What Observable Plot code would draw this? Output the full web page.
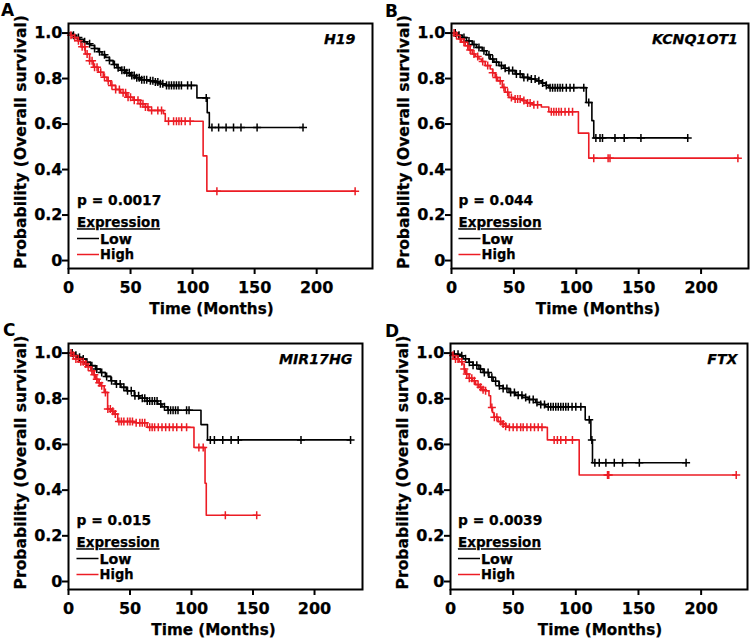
<!DOCTYPE html>
<html><head><meta charset="utf-8">
<script src="https://cdn.jsdelivr.net/npm/d3@7"></script>
<script src="https://cdn.jsdelivr.net/npm/@observablehq/plot@0.6"></script>
<style>
body{margin:0;background:#fff;}
#root{position:relative;width:750px;height:643px;overflow:hidden;background:#fff;font-family:"DejaVu Sans",sans-serif;font-weight:bold;}
.panel{position:absolute;}
.panel svg{max-width:none;}
.panel svg text{stroke:currentColor;stroke-width:0.25px;}
.letter{position:absolute;font-size:17px;font-weight:bold;line-height:1;}
</style></head><body><div id="root"></div>
<script>
// ---------- data ----------
const timeTicks = [0, 50, 100, 150, 200];
const probTicks = [0, 0.2, 0.4, 0.6, 0.8, 1.0];
const groups = ["Low", "High"];
const groupColors = ["#000000", "#ec1c24"];
const panelLetters = ["A", "B", "C", "D"];
const genes = ["H19", "KCNQ1OT1", "MIR17HG", "FTX"];
const pValues = ["0.0017", "0.044", "0.015", "0.0039"];

// Kaplan-Meier steps: [months, survival]
const aLow = [[0,1],[3,0.99],[6,0.98],[9,0.972],[12,0.962],[15,0.953],[18,0.945],[21,0.932],[24,0.918],[27,0.905],[30,0.893],[33,0.879],[36,0.862],[39,0.848],[42,0.836],[46,0.825],[50,0.813],[54,0.804],[58,0.795],[64,0.79],[70,0.785],[74,0.777],[78,0.77],[103.5,0.715],[111.8,0.65],[113.5,0.585],[189,0.585]];
const aHigh = [[0,1],[2,0.99],[4,0.98],[7,0.966],[10,0.94],[13.5,0.908],[17,0.878],[20,0.85],[24,0.828],[28,0.806],[31,0.79],[34,0.77],[38,0.752],[42,0.738],[47,0.718],[52,0.705],[58,0.689],[62,0.675],[64.5,0.66],[76.5,0.646],[78,0.612],[108.5,0.46],[111.5,0.305],[231,0.305]];
const aLowCens = [4,8,13,17,21,25,29,33,37,40,43,45,47,49,51,53,55,57,59,61,63,66,68,70,72,74,76,79,81,83,85,87,89,91,96,99,111,115.6,121,127,133,139,152,189];
const aHighCens = [2,5,8,11,13,15,17,19,21,23,26,29,32,35,38,41,44,46,48,50,53,56,58,60,62,64,67,72,75,80.6,84.7,87,89,91,94,98,119.6,231];

const bLow = [[0,1],[4,0.99],[8.6,0.98],[12,0.965],[16.6,0.95],[20,0.937],[24.6,0.922],[28,0.905],[31,0.886],[34,0.872],[38,0.857],[42,0.845],[46,0.835],[51,0.82],[56.8,0.805],[62,0.798],[67.5,0.79],[72,0.78],[75.5,0.77],[78,0.76],[108,0.695],[112.5,0.615],[114,0.539],[189.3,0.539]];
const bHigh = [[0,1],[3,0.99],[5.9,0.974],[8,0.96],[11,0.944],[14,0.925],[16.6,0.908],[19,0.897],[22,0.886],[24,0.875],[27,0.857],[31,0.842],[33,0.825],[35,0.805],[37,0.79],[40.7,0.761],[43,0.74],[46,0.717],[50,0.71],[56.8,0.703],[60,0.693],[65,0.685],[72,0.675],[78,0.654],[101.7,0.56],[110,0.45],[230,0.45]];
const bLowCens = [3,6,10,14,18,22,26,30,33,36,40,43,46,49,52,55,58,61,64,67,70,73,76,79,81,83,85,87,89,92,95,98,106,110,115.7,119,121,131,138.4,151.8,189.3];
const bHighCens = [2,4,7,10,13,15,18,21,25,29,33,36,39,42,45,48,51,53,55,58,61,63,66,69,80,82,84,86,88,91,94,97,114,125.5,127,229.5];

const cLow = [[0,1],[4,0.99],[7,0.982],[10,0.974],[14,0.96],[18,0.945],[22,0.93],[26,0.915],[30,0.898],[34.5,0.879],[38,0.865],[42.6,0.85],[47,0.835],[53.5,0.813],[58,0.802],[64,0.79],[72.5,0.777],[76,0.765],[80.6,0.75],[107.7,0.687],[113,0.62],[229.3,0.62]];
const cHigh = [[0,1],[3,0.99],[6,0.974],[9,0.962],[12.8,0.952],[15,0.94],[18,0.923],[20,0.905],[22,0.886],[24,0.87],[26,0.857],[29,0.828],[31.8,0.755],[35,0.745],[37,0.733],[40,0.70],[55,0.695],[64,0.675],[102,0.587],[111,0.43],[112,0.29],[153,0.29]];
const cLowCens = [3,6,9,12,15,19,23,27,31,35,39,42,45,48,51,54,57,60,62,64,66,68,70,72,75,78,81,83,85,87,89,96,98,115.3,118.6,125.4,132.2,138,189,229.3];
const cHighCens = [2,4,6,8,10,12,14,16,19,21,23,25,27,30,32,34,36,38,41,43,45,48,50,52,55,58,60,62,66,68,70,73,76,79,82,85,88,92,96,106,109.5,127.5,153];

const dLow = [[0,1],[3,0.995],[6.7,0.988],[10,0.975],[14.7,0.96],[18,0.947],[22.7,0.93],[26,0.915],[30.7,0.894],[34,0.877],[38.7,0.857],[42,0.845],[46.7,0.828],[52,0.815],[57.3,0.806],[62,0.797],[68,0.784],[72,0.775],[76,0.765],[107.5,0.708],[112,0.62],[113.3,0.52],[188,0.52]];
const dHigh = [[0,1],[2,0.99],[4,0.974],[7,0.962],[9.3,0.952],[11,0.93],[12,0.908],[15,0.89],[17.3,0.879],[20,0.862],[22.7,0.85],[25,0.84],[28,0.835],[30.7,0.813],[32,0.762],[33.5,0.74],[34.7,0.719],[38,0.70],[41.3,0.69],[44,0.68],[46.7,0.675],[77.3,0.62],[102.7,0.466],[228,0.466]];
const dLowCens = [3,6,9,12,15,18,21,24,27,30,33,36,39,42,45,48,51,54,57,60,63,66,69,72,75,78,80,82,84,86,88,90,92,94,97,100,104,110.7,112.8,115.2,118.7,124,130.7,137.3,150.7,188];
const dHighCens = [2,4,6,9,11,13,15,17,19,22,24,26,28,33,35,37,40,42,44,47,50,53,56,58,61,64,67,70,73,82.7,85.3,88,92,97.3,125.3,126.3,228];

// ---------- layout ----------
const panels = [
  {steps:[aLow,aHigh], cens:[aLowCens,aHighCens]},
  {steps:[bLow,bHigh], cens:[bLowCens,bHighCens]},
  {steps:[cLow,cHigh], cens:[cLowCens,cHighCens]},
  {steps:[dLow,dHigh], cens:[dLowCens,dHighCens]}
];
const layout = [
  {left:0,   top:0,   w:375, h:320, mL:68, mR:3,  mT:23, mB:52, xMax:245, geneDx:-17, xLabDx:-9, legDx:9,   lx:1,  ly:2},
  {left:375, top:0,   w:375, h:320, mL:76, mR:2,  mT:23, mB:52, xMax:238, geneDx:-10.5, xLabDx:-2, legDx:7.5, lx:10, ly:3},
  {left:0,   top:320, w:375, h:323, mL:68, mR:13, mT:23, mB:54, xMax:239, geneDx:-10, xLabDx:-2, legDx:8.5, lx:3,  ly:2},
  {left:375, top:320, w:375, h:323, mL:75, mR:3,  mT:23, mB:54, xMax:237, geneDx:-10, xLabDx:1,  legDx:8,   lx:10, ly:3}
];

function survAt(steps, t) {
  let s = steps[0][1];
  for (const [tt, ss] of steps) { if (tt <= t) s = ss; else break; }
  return s;
}

const root = document.getElementById("root");

panels.forEach((P, k) => {
  const L = layout[k];
  const rows = [], cens = [];
  groups.forEach((g, i) => {
    P.steps[i].forEach(([t, s]) => rows.push({t, s, g}));
    P.cens[i].forEach(t => cens.push({t, s: survAt(P.steps[i], t), g}));
  });

  const svgEl = Plot.plot({
    width: L.w, height: L.h,
    marginLeft: L.mL, marginRight: L.mR, marginTop: L.mT, marginBottom: L.mB,
    style: {fontFamily: "DejaVu Sans", fontSize: "16px", fontWeight: "bold", background: "transparent", color: "#000"},
    x: {domain: [0, L.xMax]},
    y: {domain: [-0.035, 1.042]},
    color: {domain: groups, range: groupColors},
    marks: [
      Plot.line(rows, {x: "t", y: "s", z: "g", stroke: "g", curve: "step-after", strokeWidth: 1.6}),
      Plot.dot(cens, {x: "t", y: "s", stroke: "g", symbol: "plus", r: 2.7, strokeWidth: 1.5}),
      Plot.frame({strokeWidth: 2}),
      Plot.axisX({ticks: timeTicks, tickSize: 6, tickPadding: 7, strokeWidth: 2, label: null, fontSize: 16}),
      Plot.axisY({ticks: probTicks, tickFormat: d => d === 0 ? "0" : d.toFixed(1), tickSize: 6, tickPadding: 0, strokeWidth: 2, label: null, fontSize: 16}),
      Plot.text(["Time (Months)"], {frameAnchor: "bottom", dx: L.xLabDx, dy: 45.5, lineAnchor: "bottom", fontSize: 15.2}),
      Plot.text(["Probability (Overall survival)"], {frameAnchor: "left", rotate: -90, dx: -43, dy: -4, lineAnchor: "bottom", textAnchor: "middle", fontSize: 15.6}),
      Plot.text([genes[k]], {frameAnchor: "top-right", dx: L.geneDx, dy: 20, lineAnchor: "bottom", fontStyle: "italic", fontSize: 14.2})
    ]
  });

  // legend (p value + expression key)
  const svg = d3.select(svgEl);
  const lx = L.mL + L.legDx;
  svg.append("text").attr("x", lx).attr("y", 205).attr("font-size", 13.8).attr("text-anchor", "start").text("p = " + pValues[k]);
  svg.append("text").attr("x", lx).attr("y", 227.3).attr("font-size", 13.5).attr("text-anchor", "start")
     .attr("text-decoration", "underline").text("Expression");
  const lineY = [238.5, 254.5], textY = [243.6, 259.4];
  groups.forEach((g, i) => {
    svg.append("line").attr("x1", lx).attr("x2", lx + 22).attr("y1", lineY[i]).attr("y2", lineY[i])
       .attr("stroke", groupColors[i]).attr("stroke-width", 1.5);
    svg.append("text").attr("x", lx + 23).attr("y", textY[i]).attr("font-size", 13.4).attr("text-anchor", "start")
       .attr("textLength", i === 0 ? 32 : 34).attr("lengthAdjust", "spacingAndGlyphs").text(g);
  });

  const div = document.createElement("div");
  div.className = "panel";
  div.style.left = L.left + "px"; div.style.top = L.top + "px";
  div.style.width = L.w + "px"; div.style.height = L.h + "px";
  div.appendChild(svgEl);
  root.appendChild(div);

  const lt = document.createElement("div");
  lt.className = "letter";
  lt.style.left = (L.left + L.lx) + "px"; lt.style.top = (L.top + L.ly) + "px";
  lt.textContent = panelLetters[k];
  root.appendChild(lt);
});
</script>
</body></html>
